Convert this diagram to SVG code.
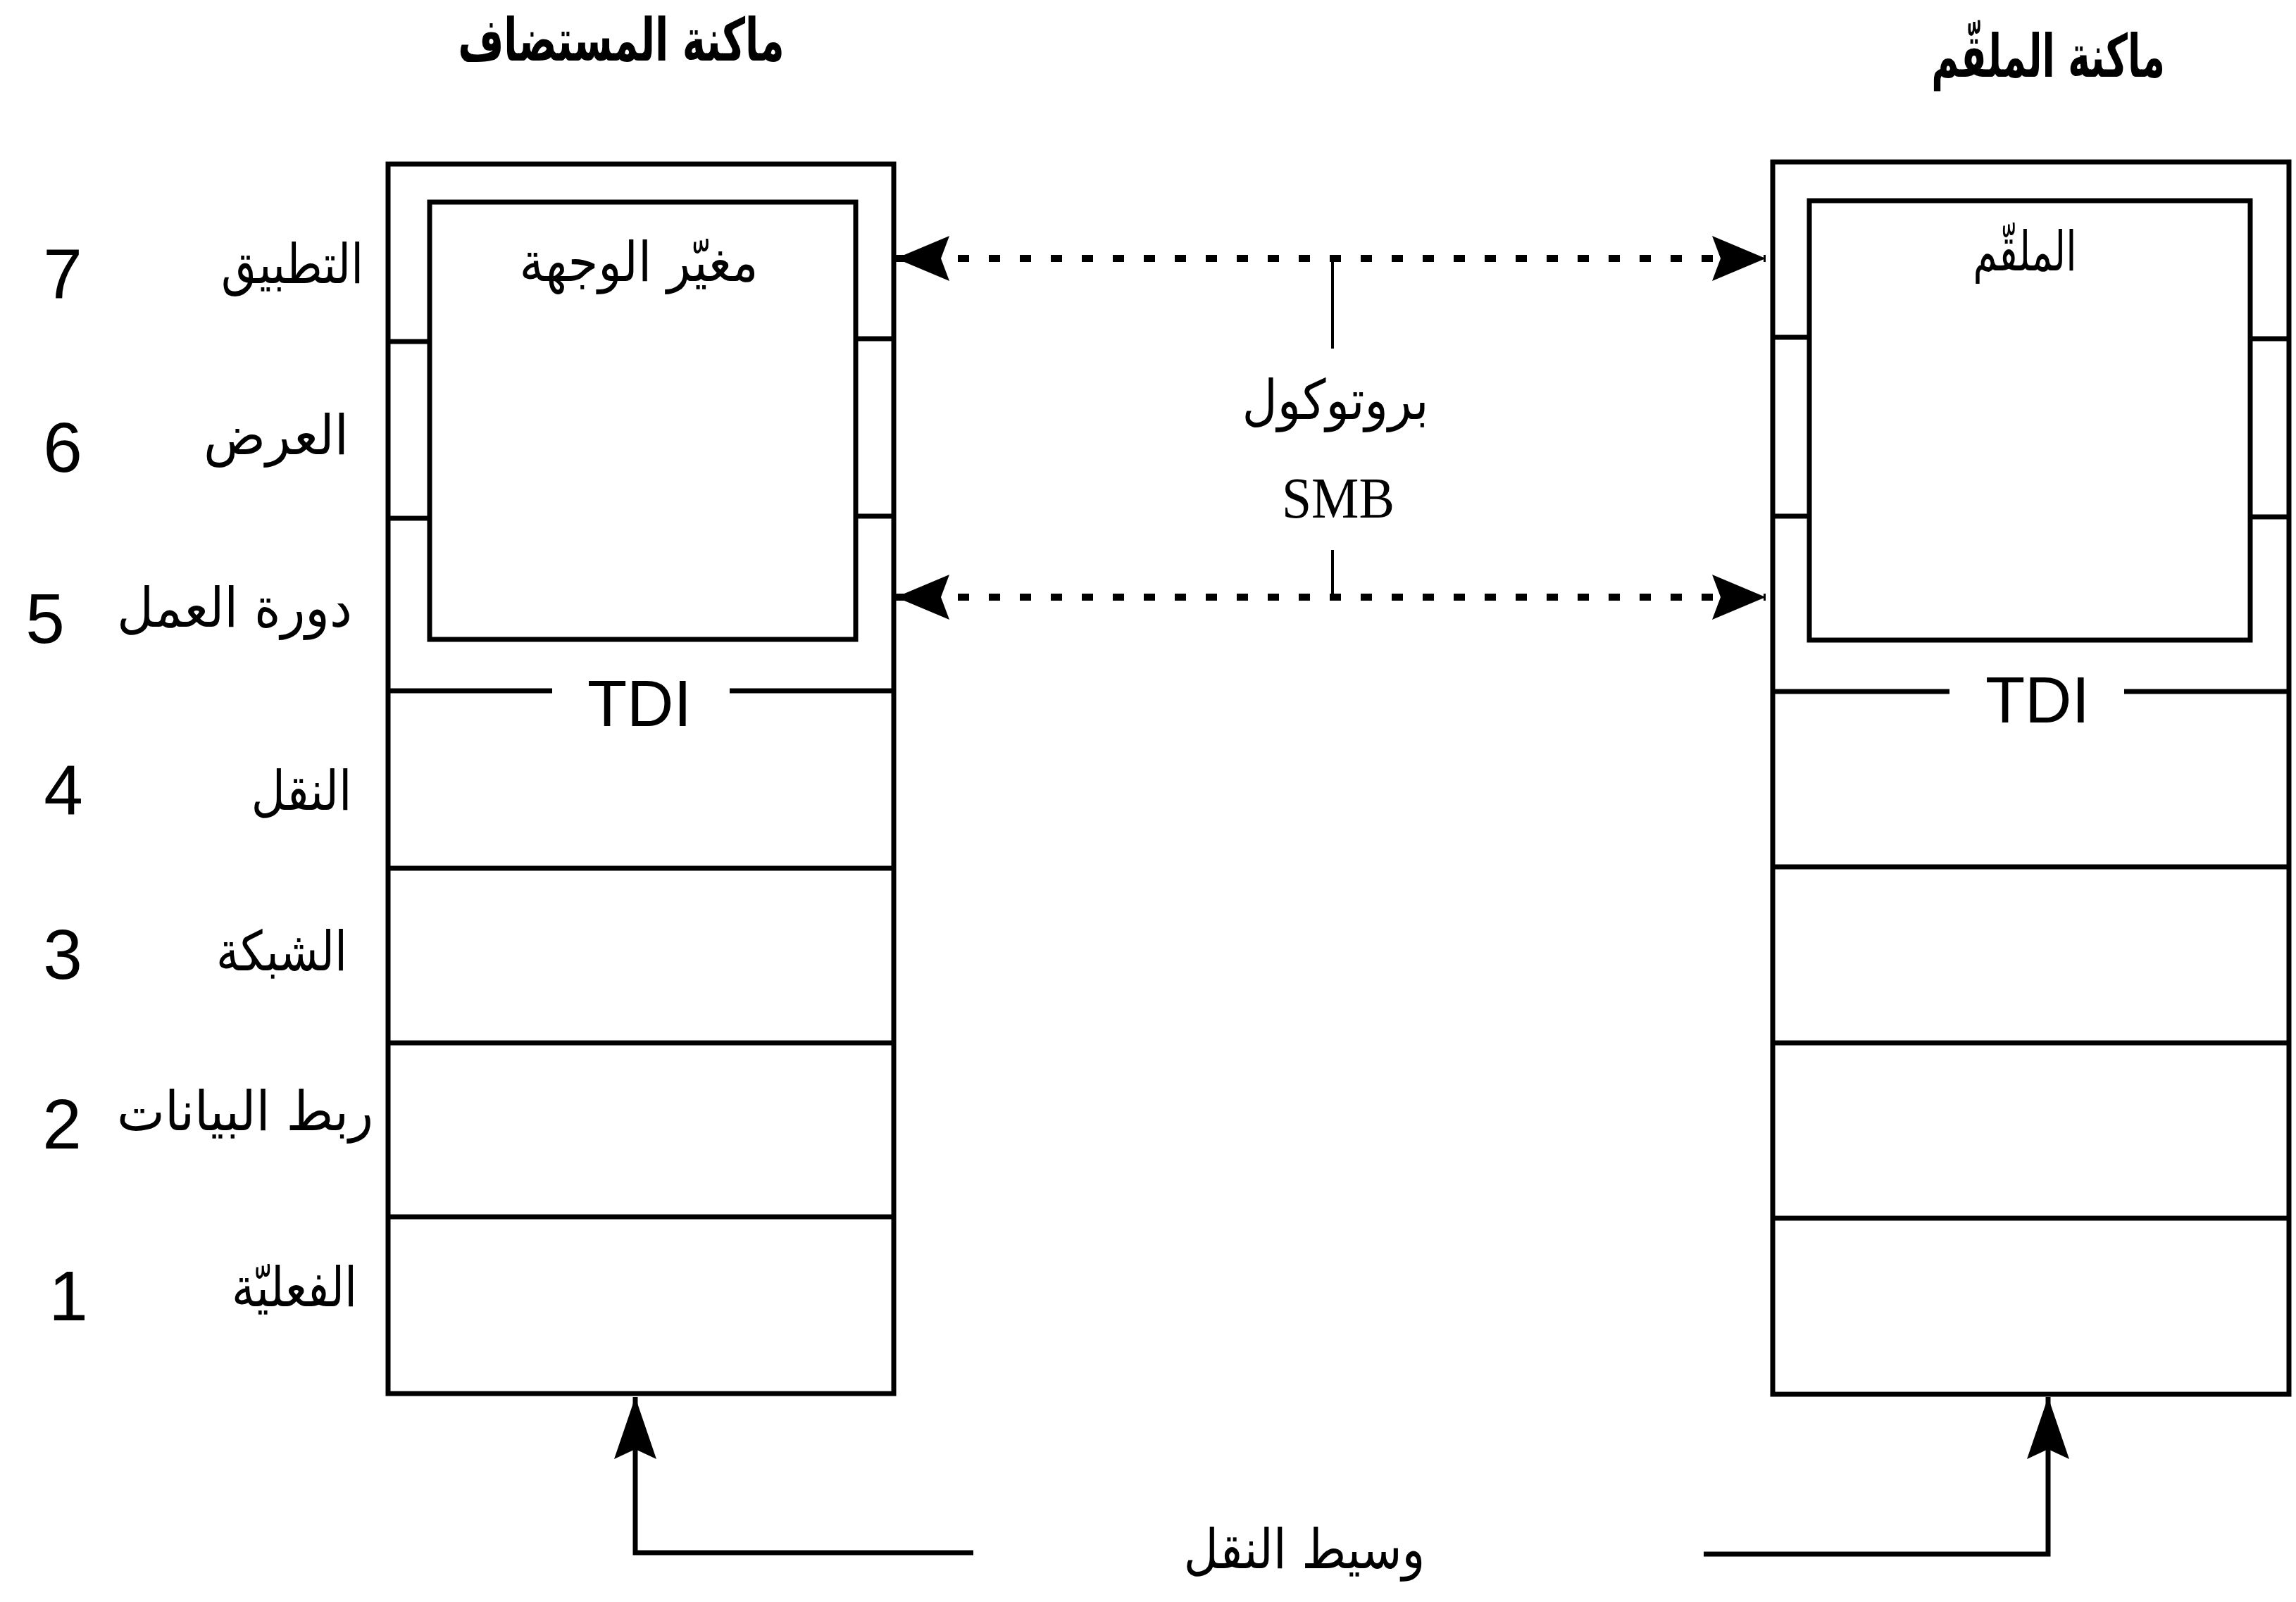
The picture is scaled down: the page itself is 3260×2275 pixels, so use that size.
<svg xmlns="http://www.w3.org/2000/svg" width="3260" height="2275" viewBox="0 0 3260 2275">
<defs>
<style>
.ln{stroke:#000;stroke-width:7;fill:none}
.bx{stroke:#000;stroke-width:7;fill:none}
.ar{font-family:"DejaVu Sans",sans-serif;fill:#000;text-anchor:middle}
.lat{font-family:"Liberation Sans",Arial,sans-serif;fill:#000;text-anchor:middle}
.num{font-family:"Liberation Sans",Arial,sans-serif;font-size:100px;fill:#000;text-anchor:middle}
.ttl{font-size:84px;font-weight:bold}
.lbl{font-size:78px}
.dash{stroke:#000;stroke-width:10;fill:none;stroke-dasharray:16 28}
.thin{stroke:#000;stroke-width:4;fill:none}
</style>
<marker id="ah" viewBox="0 0 76 64" refX="76" refY="32" markerWidth="76" markerHeight="64" markerUnits="userSpaceOnUse" orient="auto-start-reverse">
<path d="M0,0 L76,32 L0,64 L12,32 Z" fill="#000"/>
</marker>
<marker id="ah2" viewBox="0 0 88 60" refX="88" refY="30" markerWidth="88" markerHeight="60" markerUnits="userSpaceOnUse" orient="auto">
<path d="M0,0 L88,30 L0,60 L14,30 Z" fill="#000"/>
</marker>
</defs>
<rect width="3260" height="2275" fill="#fff"/>

<g id="title-host"><text class="ar ttl" transform="translate(882,86) scale(0.667,1)" x="0" y="0">ماكنة المستضاف</text></g>
<g id="title-server"><text class="ar ttl" transform="translate(2908,109) scale(0.633,1)" x="0" y="0">ماكنة الملقّم</text></g>

<g id="layer-labels">
<text class="num" x="89" y="424">7</text>
<text class="ar lbl" x="415" y="402" textLength="202" lengthAdjust="spacingAndGlyphs">التطبيق</text>
<text class="num" x="89" y="670">6</text>
<text class="ar lbl" x="392" y="645" textLength="206" lengthAdjust="spacingAndGlyphs">العرض</text>
<text class="num" x="64" y="913">5</text>
<text class="ar lbl" x="333" y="890" textLength="334" lengthAdjust="spacingAndGlyphs">دورة العمل</text>
<text class="num" x="90" y="1157">4</text>
<text class="ar lbl" x="428" y="1150" textLength="143" lengthAdjust="spacingAndGlyphs">النقل</text>
<text class="num" x="89" y="1390">3</text>
<text class="ar lbl" x="400" y="1378" textLength="186" lengthAdjust="spacingAndGlyphs">الشبكة</text>
<text class="num" x="88" y="1631">2</text>
<text class="ar lbl" x="348" y="1605" textLength="364" lengthAdjust="spacingAndGlyphs">ربط البيانات</text>
<text class="num" x="97" y="1875">1</text>
<text class="ar lbl" x="418" y="1855" textLength="178" lengthAdjust="spacingAndGlyphs">الفعليّة</text>
</g>

<g id="host-stack">
<rect class="bx" x="551" y="233" width="718" height="1746"/>
<rect class="bx" x="610" y="287" width="605" height="621"/>
<line class="ln" x1="551" y1="485" x2="610" y2="485"/>
<line class="ln" x1="551" y1="736" x2="610" y2="736"/>
<line class="ln" x1="1215" y1="481" x2="1269" y2="481"/>
<line class="ln" x1="1215" y1="733" x2="1269" y2="733"/>
<line class="ln" x1="551" y1="981" x2="784" y2="981"/>
<line class="ln" x1="1036" y1="981" x2="1269" y2="981"/>
<text class="lat" x="908" y="1031" font-size="92">TDI</text>
<line class="ln" x1="551" y1="1233" x2="1269" y2="1233"/>
<line class="ln" x1="551" y1="1481" x2="1269" y2="1481"/>
<line class="ln" x1="551" y1="1728" x2="1269" y2="1728"/>
<text class="ar lbl" x="907" y="399" textLength="339" lengthAdjust="spacingAndGlyphs">مغيّر الوجهة</text>
</g>

<g id="server-stack">
<rect class="bx" x="2517" y="230" width="733" height="1750"/>
<rect class="bx" x="2569" y="285" width="626" height="624"/>
<line class="ln" x1="2517" y1="479" x2="2569" y2="479"/>
<line class="ln" x1="2517" y1="733" x2="2569" y2="733"/>
<line class="ln" x1="3195" y1="481" x2="3250" y2="481"/>
<line class="ln" x1="3195" y1="734" x2="3250" y2="734"/>
<line class="ln" x1="2517" y1="982" x2="2768" y2="982"/>
<line class="ln" x1="3016" y1="982" x2="3250" y2="982"/>
<text class="lat" x="2893" y="1026" font-size="92">TDI</text>
<line class="ln" x1="2517" y1="1231" x2="3250" y2="1231"/>
<line class="ln" x1="2517" y1="1481" x2="3250" y2="1481"/>
<line class="ln" x1="2517" y1="1730" x2="3250" y2="1730"/>
<text class="ar lbl" x="2875" y="384" textLength="147" lengthAdjust="spacingAndGlyphs">الملقّم</text>
</g>

<g id="protocol-label">
<text class="ar lbl" x="1896" y="595" textLength="265" lengthAdjust="spacingAndGlyphs">بروتوكول</text>
<text x="1900" y="735" font-family="Liberation Serif,'Times New Roman',serif" font-size="82" text-anchor="middle" textLength="160" lengthAdjust="spacingAndGlyphs">SMB</text>
</g>

<g id="medium-label">
<text class="ar lbl" x="1852" y="2227" textLength="343" lengthAdjust="spacingAndGlyphs">وسيط النقل</text>
</g>

<g id="connectors">
<line class="dash" x1="1272" y1="367" x2="2507" y2="367" marker-start="url(#ah)" marker-end="url(#ah)"/>
<line class="dash" x1="1272" y1="848" x2="2507" y2="848" marker-start="url(#ah)" marker-end="url(#ah)"/>
<line class="thin" x1="1892" y1="367" x2="1892" y2="495"/>
<line class="thin" x1="1892" y1="781" x2="1892" y2="848"/>
<path class="ln" d="M1382,2205 H902 V1984" marker-end="url(#ah2)"/>
<path class="ln" d="M2419,2207 H2908 V1984" marker-end="url(#ah2)"/>
</g>
</svg>
